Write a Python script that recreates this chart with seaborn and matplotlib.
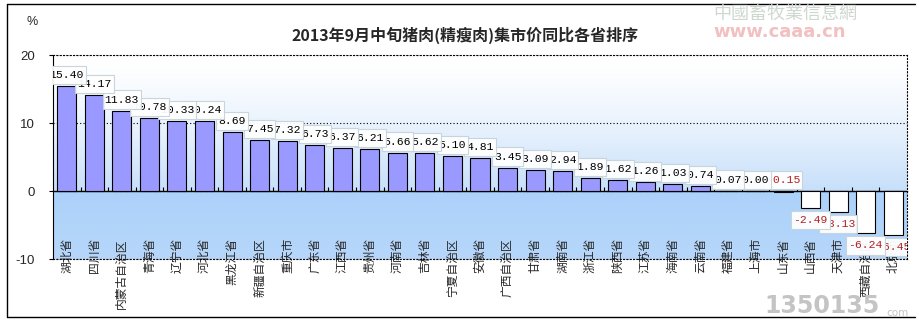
import numpy as np
import pandas as pd
import matplotlib
matplotlib.use("Agg")
import matplotlib.pyplot as plt
import seaborn as sns
from matplotlib.lines import Line2D

# 2013年9月中旬 各省猪肉(精瘦肉)集市价同比 (%)
provinces = ["湖北省", "四川省", "内蒙古自治区", "青海省", "辽宁省", "河北省", "黑龙江省",
             "新疆自治区", "重庆市", "广东省", "江西省", "贵州省", "河南省", "吉林省",
             "宁夏自治区", "安徽省", "广西自治区", "甘肃省", "湖南省", "浙江省", "陕西省",
             "江苏省", "海南省", "云南省", "福建省", "上海市", "山东省", "山西省", "天津市",
             "西藏自治区", "北京市"]
changes = [15.40, 14.17, 11.83, 10.78, 10.33, 10.24, 8.69,
           7.45, 7.32, 6.73, 6.37, 6.21, 5.66, 5.62,
           5.10, 4.81, 3.45, 3.09, 2.94, 1.89, 1.62,
           1.26, 1.03, 0.74, 0.07, 0.00, -0.15, -2.49, -3.13,
           -6.24, -6.45]
y_ticks = [-10, 0, 10, 20]
title = "2013年9月中旬猪肉(精瘦肉)集市价同比各省排序"
unit = "%"

sns.set_theme(style="white")
plt.rcParams["font.family"] = ["Noto Sans CJK SC", "DejaVu Sans"]
plt.rcParams["axes.unicode_minus"] = False

W, H = 920, 322
fig = plt.figure(figsize=(W / 100, H / 100), dpi=100)
fig.patch.set_facecolor("white")
ax = fig.add_axes([53 / W, 1 - 259 / H, 854 / W, 204 / H])

n = len(provinces)
df = pd.DataFrame({"省份": provinces, "同比": changes})
pal = {p: ("#9999FF" if v >= 0 else "white") for p, v in zip(provinces, changes)}

# plot-area background: white fading to light blue above zero, deeper blue below
ys = np.linspace(20, -10, 400)
top_c = np.array([255, 255, 255]) / 255
mid_c = np.array([198, 223, 250]) / 255
low1 = np.array([172, 209, 250]) / 255
low2 = np.array([182, 215, 250]) / 255
rows = []
for y in ys:
    if y >= 0:
        t = np.clip((20 - y) / 20, 0, 1) ** 1.4
        rows.append(top_c * (1 - t) + mid_c * t)
    else:
        t = -y / 10
        rows.append(low1 * (1 - t) + low2 * t)
grad = np.array(rows)[:, None, :]
ax.imshow(grad, extent=[-0.5, n - 0.5, -10, 20], aspect="auto", zorder=0,
          interpolation="bilinear")

sns.barplot(data=df, x="省份", y="同比", hue="省份", palette=pal, legend=False,
            width=0.69, edgecolor="black", linewidth=0.8, saturation=1,
            ax=ax, zorder=3)

ax.set_xlim(-0.5, n - 0.5)
ax.set_ylim(-10, 20)
ax.set_xlabel("")
ax.set_ylabel("")

# axes styling
dot = (0, (1, 2))
for s in ["top", "right", "bottom"]:
    ax.spines[s].set_linestyle(dot)
    ax.spines[s].set_linewidth(0.8)
    ax.spines[s].set_color("black")
ax.spines["left"].set_linewidth(0.8)
ax.spines["left"].set_color("black")
ax.set_axisbelow(True)
ax.yaxis.grid(True, linestyle=dot, color="black", linewidth=0.8)
ax.xaxis.grid(False)

ax.set_yticks(y_ticks)
ax.set_yticklabels([str(t) for t in y_ticks], family=["Liberation Sans"], fontsize=9.5)
ax.tick_params(axis="y", direction="out", length=3, width=0.8, color="black", pad=10,
               left=True)

ax.set_xticks(range(n))
ax.set_xticklabels(provinces, rotation=90, fontsize=8.5)
ax.tick_params(axis="x", length=0, pad=-15, bottom=True)

# zero line with category separators
zero_ax = ax.secondary_xaxis(10 / 30)
zero_ax.set_xticks(np.arange(n - 1) + 0.5)
zero_ax.tick_params(direction="in", length=3, width=0.8, color="black",
                    labelbottom=False, labeltop=False)
for s in zero_ax.spines.values():
    s.set_linewidth(1.0)
    s.set_color("black")

# value labels (earlier ones drawn on top)
for i in reversed(range(n)):
    v = changes[i]
    if v >= -0.5:
        y0, va, off = max(v, 0), "bottom", 6
    else:
        y0, va, off = v, "top", -7
    col = "black" if v >= 0 else "#b52020"
    ax.annotate(f"{v:.2f}", (i, y0), xytext=(0, off), textcoords="offset pixels",
                ha="center", va=va, fontsize=8.2, family=["Liberation Mono"], color=col,
                bbox=dict(boxstyle="square,pad=0.18", mutation_aspect=2.0, fc="white",
                          ec="#c5d3dc", lw=0.8, alpha=0.95),
                zorder=5, annotation_clip=False, clip_on=True)

# titles and unit
fig.text(465 / W, 1 - 35 / H, title, ha="center", va="center", fontsize=11.5,
         fontweight="bold")
fig.text(32 / W, 1 - 22 / H, unit, ha="center", va="center", fontsize=9,
         family=["Liberation Sans"])

# outer frame
fr = dict(color="black", linewidth=1.0, transform=fig.transFigure)
fig.add_artist(Line2D([7 / W, 915 / W], [1 - 4 / H, 1 - 4 / H], **fr))
fig.add_artist(Line2D([7 / W, 7 / W], [1 - 4 / H, 1 - 317 / H], **fr))
fig.add_artist(Line2D([7 / W, 915 / W], [1 - 317 / H, 1 - 317 / H], **fr))

# source marks
fig.text(785 / W, 1 - 14 / H, "中國畜牧業信息網", ha="center", va="center",
         fontsize=13, color="#cfd8cf")
fig.text(780 / W, 1 - 32 / H, "www.caaa.cn", ha="center", va="center",
         fontsize=13, color="#f2c0c0", fontweight="bold", family=["DejaVu Sans"])
fig.text(822 / W, 1 - 306 / H, "1350135", ha="center", va="center",
         fontsize=17, color="#c4c4c4", fontweight="bold", family=["DejaVu Sans"])
fig.text(898 / W, 1 - 313 / H, "com", ha="center", va="center",
         fontsize=7.5, color="#c4c4c4", family=["DejaVu Sans"])

fig.savefig("out.png", dpi=100)
